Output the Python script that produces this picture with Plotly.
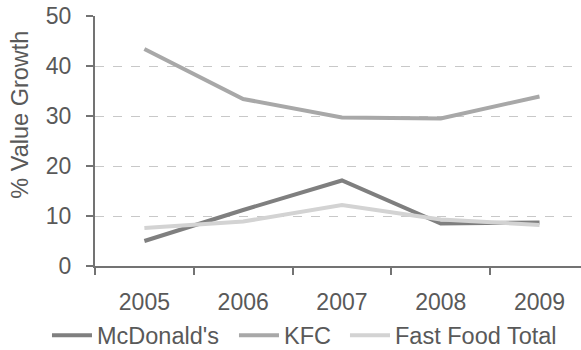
import plotly.graph_objects as go

years = ["2005", "2006", "2007", "2008", "2009"]
mcdonalds = [5.0, 11.2, 17.1, 8.5, 8.7]
kfc = [43.4, 33.4, 29.7, 29.5, 33.9]
fast_food_total = [7.6, 8.9, 12.2, 9.3, 8.2]

series = [
    ("McDonald's", mcdonalds, "#7f7f7f", 132),
    ("KFC", kfc, "#a8a8a8", 56),
    ("Fast Food Total", fast_food_total, "#d3d3d3", 170),
]

fig = go.Figure()
for name, vals, color, lw in series:
    fig.add_trace(go.Scatter(
        x=years, y=vals, name=name, mode="lines",
        line=dict(color=color, width=4), legendwidth=lw,
    ))

text_color = "#595959"
axis_color = "#737373"
font_family = "Liberation Sans, Arial, sans-serif"

fig.add_annotation(
    text="% Value Growth", textangle=-90,
    xref="paper", yref="paper", x=-0.156, y=0.606,
    xanchor="center", yanchor="middle", showarrow=False,
    font=dict(family=font_family, size=23.5, color=text_color),
)

fig.update_layout(
    width=581, height=350,
    margin=dict(l=95, r=0, t=16, b=84, autoexpand=False),
    paper_bgcolor="white", plot_bgcolor="white",
    font=dict(family=font_family, size=23, color=text_color),
    showlegend=True,
    legend=dict(
        orientation="h", x=-0.0988, xanchor="left", y=-0.19, yanchor="top",
        font=dict(family=font_family, size=23.5, color=text_color), itemwidth=40,
        bgcolor="rgba(0,0,0,0)",
    ),
    xaxis=dict(
        type="category", range=[-0.5, 4.42], automargin=False,
        tickson="boundaries", ticks="outside", ticklen=7, tickwidth=2,
        tickcolor=axis_color, showline=True, linecolor=axis_color, linewidth=2,
        showgrid=False, tickfont=dict(size=23, color=text_color),
        ticklabelstandoff=14,
    ),
    yaxis=dict(
        range=[0, 50], dtick=10, ticks="outside", ticklen=7, tickwidth=2,
        automargin=False,
        tickcolor=axis_color, showline=True, linecolor=axis_color, linewidth=2,
        showgrid=True, gridcolor="#c8c8c8", griddash="dash", gridwidth=1,
        zeroline=False, tickfont=dict(size=23, color=text_color),
        ticklabelstandoff=10,
    ),
)

fig.write_html("out.html")
